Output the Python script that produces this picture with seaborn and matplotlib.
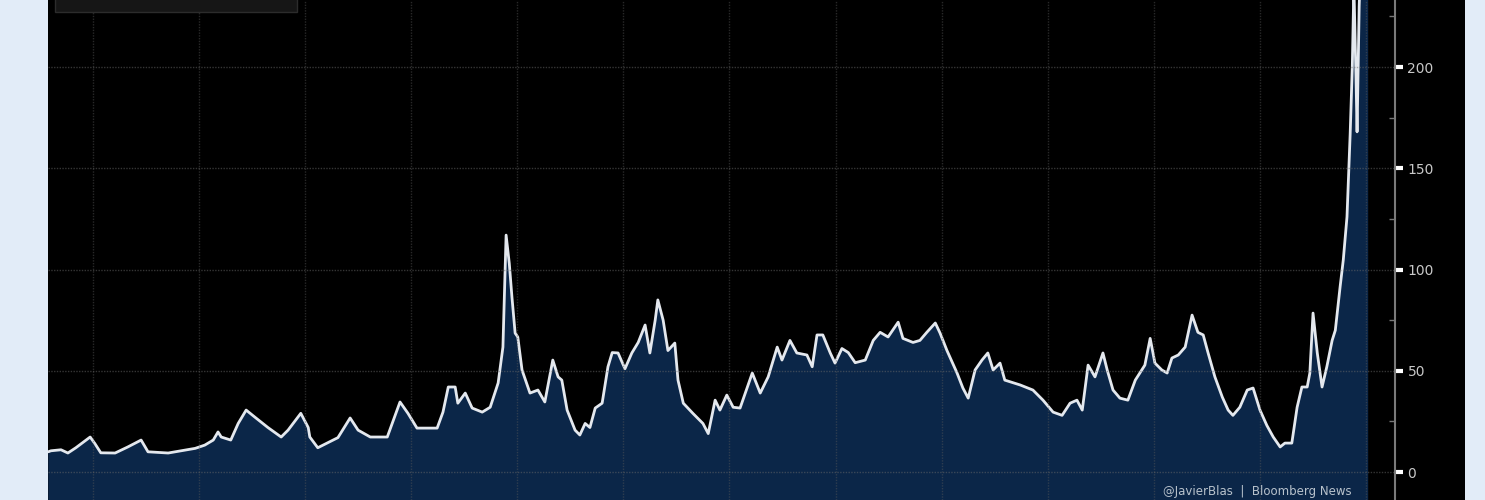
import numpy as np
import pandas as pd
import matplotlib.pyplot as plt
import seaborn as sns
from matplotlib.patches import Rectangle
from matplotlib.ticker import MultipleLocator

# Price series (decimal year, price)
years = [
    1997.16, 1997.21, 1997.40, 1997.53, 1997.68, 1997.95, 1998.04, 1998.15, 1998.42, 1998.66, 1998.91,
    1999.04, 1999.42, 1999.66, 1999.93, 2000.11, 2000.27, 2000.36, 2000.42, 2000.60, 2000.74,
    2000.89, 2001.06, 2001.30, 2001.55, 2001.68, 2001.92, 2002.06, 2002.09, 2002.24, 2002.62,
    2002.85, 2003.00, 2003.23, 2003.55, 2003.79, 2003.94, 2004.11, 2004.49, 2004.60, 2004.70,
    2004.83, 2004.88, 2005.02, 2005.15, 2005.34, 2005.49, 2005.64, 2005.73, 2005.79, 2005.85,
    2005.90, 2005.96, 2006.01, 2006.09, 2006.24, 2006.39, 2006.52, 2006.67, 2006.77, 2006.84,
    2006.94, 2007.09, 2007.18, 2007.28, 2007.37, 2007.47, 2007.60, 2007.71, 2007.79, 2007.90,
    2008.03, 2008.16, 2008.28, 2008.41, 2008.50, 2008.60, 2008.65, 2008.75, 2008.84, 2008.97,
    2009.03, 2009.13, 2009.31, 2009.50, 2009.60, 2009.73, 2009.82, 2009.95, 2010.07, 2010.20,
    2010.43, 2010.58, 2010.73, 2010.90, 2010.99, 2011.14, 2011.27, 2011.46, 2011.56, 2011.65,
    2011.76, 2011.90, 2011.99, 2012.12, 2012.24, 2012.37, 2012.56, 2012.71, 2012.84, 2012.99,
    2013.18, 2013.27, 2013.46, 2013.59, 2013.72, 2013.88, 2013.97, 2014.10, 2014.29, 2014.40,
    2014.50, 2014.63, 2014.76, 2014.87, 2014.97, 2015.10, 2015.19, 2015.48, 2015.72, 2015.91,
    2016.10, 2016.27, 2016.42, 2016.55, 2016.65, 2016.76, 2016.89, 2017.04, 2017.12, 2017.23,
    2017.36, 2017.51, 2017.65, 2017.83, 2017.93, 2018.02, 2018.15, 2018.25, 2018.34, 2018.46,
    2018.59, 2018.72, 2018.83, 2018.93, 2019.02, 2019.15, 2019.29, 2019.40, 2019.49, 2019.62,
    2019.76, 2019.87, 2020.00, 2020.13, 2020.25, 2020.38, 2020.47, 2020.60, 2020.70, 2020.79,
    2020.89, 2020.94, 2021.00, 2021.08, 2021.17, 2021.26, 2021.36, 2021.42, 2021.51, 2021.57,
    2021.64, 2021.70, 2021.74, 2021.77, 2021.81, 2021.83, 2021.87, 2021.92, 2021.98, 2022.04,
]
prices = [
    10, 10.5, 11, 9.4, 12, 17.3, 14, 9.5, 9.4, 12.4, 15.8,
    10, 9.4, 10.5, 11.7, 13.3, 15.8, 19.8, 17.3, 15.8, 24,
    30.6, 27, 22, 17.3, 20.7, 29, 22, 17.3, 12, 17,
    26.7, 20.7, 17.3, 17.3, 34.6, 29, 21.7, 21.7, 29.6, 42,
    42, 34, 39, 31.6, 29.6, 32, 44, 61.7, 117, 103,
    86.4, 68.6, 66.7, 50.4, 39, 40.5, 34.6, 55.3, 47, 45.4,
    30.6, 20.7, 18.3, 24, 22, 31.6, 34, 52, 59, 58.8,
    51, 58.8, 64, 72.6, 58.8, 75, 85, 75, 60, 63.7,
    45.4, 34, 29, 24, 19, 35.5, 30.6, 38, 32, 31.6,
    48.9, 39, 47, 61.7, 55.3, 65, 58.8, 57.8, 52, 67.7,
    67.7, 58.8, 53.8, 61, 59, 54, 55.3, 65, 69, 66.7,
    74, 66, 64, 65, 69, 73.6, 68.6, 60, 48.9, 41.5,
    36.5, 50.4, 55.3, 58.8, 50.4, 53.8, 45.4, 43, 40.5, 35.5,
    29.6, 28, 34, 35.5, 30.6, 52.8, 47, 58.8, 50.4, 40.5,
    36.5, 35.5, 45.4, 52.8, 66, 53.8, 50.4, 48.9, 56.3, 57.8,
    61.7, 77.5, 69, 67.7, 59, 47, 37, 30.6, 28, 32,
    40.5, 41.5, 30.6, 23, 17.3, 12.4, 14.3, 14.3, 32, 42,
    42, 48.9, 78.5, 58.8, 42, 52, 65, 70, 91.4, 104.7,
    126, 167, 200, 240, 195, 168, 230, 270, 260, 250,
]
y_ticks = [0, 50, 100, 150, 200]
grid_years = list(range(1998, 2023, 2))
credit = "@JavierBlas  |  Bloomberg News"

df = pd.DataFrame({"year": years, "price": prices})

sns.set_style("dark")
plt.rcParams["font.family"] = ["DejaVu Sans"]

fig = plt.figure(figsize=(14.85, 5.0), dpi=100)
fig.patch.set_facecolor("#e2ecf8")

# black Bloomberg panel behind the axes
fig.patches.append(Rectangle((48 / 1485, 0), (1465 - 48) / 1485, 1, transform=fig.transFigure,
                             facecolor="black", edgecolor="none", zorder=-10))

ax = fig.add_axes([48 / 1485, 0, (1395 - 48) / 1485, 1])
ax.set_facecolor("black")

ax.fill_between(df["year"], df["price"], -20, color="#0b2648", linewidth=0, zorder=2)
sns.lineplot(data=df, x="year", y="price", ax=ax, color="#e4e8ee", linewidth=2.0, zorder=3)

ax.set_xlim(1997.155, 2022.545)
ax.set_ylim(-13.8, 233.1)

# grid drawn above the fill so it shows through
ax.set_xticks(grid_years)
ax.set_yticks(y_ticks)
for yr in grid_years:
    ax.axvline(yr, color="#5a5a5a", linewidth=1, linestyle=(0, (1, 1)), alpha=0.45, zorder=4)
for v in y_ticks:
    ax.axhline(v, color="#6a6a6a", linewidth=1, linestyle=(0, (1, 1)), alpha=0.5, zorder=4)
ax.grid(False)

ax.yaxis.tick_right()
ax.yaxis.set_minor_locator(MultipleLocator(25))
ax.tick_params(axis="y", which="major", direction="out", length=6, width=3, color="white",
               labelcolor="#c8c8c8", labelsize=10, pad=3)
ax.tick_params(axis="y", which="minor", direction="in", length=4, width=1, color="#777777")
ax.tick_params(axis="x", length=0, labelbottom=False)
ax.set_xlabel("")
ax.set_ylabel("")

for side in ["top", "left", "bottom"]:
    ax.spines[side].set_visible(False)
ax.spines["right"].set_color("#7a7a7a")
ax.spines["right"].set_linewidth(1.5)

# cut-off legend box at the top left
fig.patches.append(Rectangle((55 / 1485, 488 / 500), (297 - 55) / 1485, 20 / 500, transform=fig.transFigure,
                             facecolor="#161616", edgecolor="#2c2c2c", linewidth=1, zorder=5))

fig.text(1352 / 1485, 9 / 500, credit, ha="right", va="center", color="#b8c2cc", fontsize=8.5)

fig.savefig("out.png", dpi=100, facecolor=fig.get_facecolor())
